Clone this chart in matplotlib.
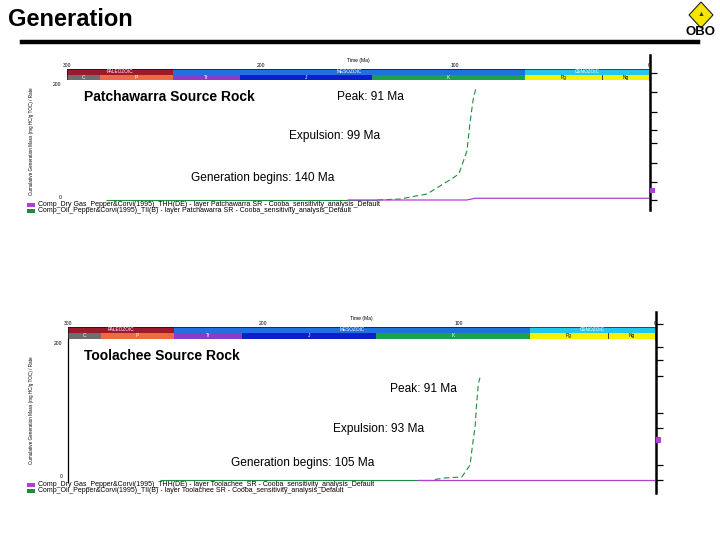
import matplotlib
matplotlib.use("Agg")
import matplotlib.pyplot as plt
from matplotlib.patches import Rectangle, Polygon

plt.rcParams['font.family'] = ['Liberation Sans', 'DejaVu Sans']

W, H = 720, 540

# ---------------- data ----------------
era_names = ["PALEOZOIC", "MESOZOIC", "CENOZOIC"]
era_start = [300, 245.5, 64]
era_end = [245.5, 64, 0]
era_colors = ["#9c1a2e", "#1f70e0", "#22c8ec"]

period_names = ["C", "P", "Tr", "J", "K", "Pg", "Ng"]
period_start = [300, 283, 245.5, 211, 142.6, 64, 24]
period_end = [283, 245.5, 211, 142.6, 64, 24, 0]
period_colors = ["#6e6e6e", "#ee6a42", "#8a3cc8", "#0a20cc", "#1fa050", "#f6f000", "#f6f000"]
period_text = ["white", "white", "white", "white", "white", "black", "black"]

time_ticks = [300, 200, 100, 0]

# Patchawarra source rock
pat_green_flat_age = [280, 140]
pat_green_flat_val = [0, 0]
pat_green_age = [140, 128.4, 114.4, 101, 98, 93.8, 92.3, 90.7, 89.3]
pat_green_val = [0, 1.7, 10.4, 38, 45, 85, 132, 172, 192]
pat_purple_age = [155, 94, 89.5, 0]
pat_purple_val = [0, 0, 3, 3]

# Toolachee source rock
too_green_flat_age = [253, 112.4]
too_green_flat_val = [0, 0]
too_green_age = [112.4, 107.3, 98.7, 96.2, 94.5, 93.1, 91.9, 91.1, 90.2, 89.4]
too_green_val = [0, 2.2, 3.7, 14, 21, 53, 77, 112, 141, 149]
too_purple_age = [121, 0]
too_purple_val = [0, 0]

legend_top = ["Comp_Dry Gas_Pepper&Corvi(1995)_THH(DE) - layer Patchawarra SR - Cooba_sensitivity_analysis_Default",
              "Comp_Oil_Pepper&Corvi(1995)_TII(B) - layer Patchawarra SR - Cooba_sensitivity_analysis_Default"]
legend_bot = ["Comp_Dry Gas_Pepper&Corvi(1995)_THH(DE) - layer Toolachee_SR - Cooba_sensitivity_analysis_Default",
              "Comp_Oil_Pepper&Corvi(1995)_TII(B) - layer Toolachee SR - Cooba_sensitivity_analysis_Default"]

PURPLE = "#b040d0"
GREEN = "#1e8c3c"

fig = plt.figure(figsize=(7.2, 5.4), dpi=100)


def ax_at(x0, y0, x1, y1, **kw):
    return fig.add_axes([x0 / W, 1 - y1 / H, (x1 - x0) / W, (y1 - y0) / H], **kw)


def ftext(x, y, s, **kw):
    return fig.text(x / W, 1 - y / H, s, **kw)


# ---------------- header ----------------
ftext(8, 20, "Generation", fontsize=17, fontweight="bold", va="center", ha="left")
fig.add_artist(plt.Line2D([22 / W, 698 / W], [1 - 42 / H, 1 - 42 / H], color="black", lw=3.2))
# logo
cx, cy = 701, 15
dia = Polygon([(cx / W, 1 - 2 / H), ((cx + 12) / W, 1 - cy / H), (cx / W, 1 - 28 / H), ((cx - 12) / W, 1 - cy / H)],
              closed=True, facecolor="#f5e400", edgecolor="#222222", lw=0.8, transform=fig.transFigure)
fig.add_artist(dia)
ftext(cx, 15, "\u25B2", fontsize=5, color="#333300", ha="center", va="center")
ftext(cx, 32, "OBO", fontsize=9.5, fontweight="bold", color="black", ha="center", va="center")


def draw_panel(x0, x1, bar_top, bar_bot, plot_bot, y0px, y200px,
               green_flat, green, purple, title, ann, legend, leg_y, rax, show_left):
    # time scale bar
    bax = ax_at(x0, bar_top, x1, bar_bot)
    bax.set_xlim(300, 0)
    bax.set_ylim(0, 2)
    for n, s, e, c in zip(era_names, era_start, era_end, era_colors):
        bax.barh(1.5, e - s, left=s, height=1, color=c, edgecolor="none")
        bax.text((s + e) / 2, 1.5, n, fontsize=3.4, color="white", ha="center", va="center")
    for n, s, e, c, tc in zip(period_names, period_start, period_end, period_colors, period_text):
        bax.barh(0.5, e - s, left=s, height=1, color=c, edgecolor="none")
        bax.text((s + e) / 2, 0.5, n, fontsize=3.4, color=tc, ha="center", va="center")
    bax.axvline(24, ymin=0, ymax=0.5, color="black", lw=0.5)
    bax.set_yticks([])
    bax.xaxis.tick_top()
    bax.set_xticks(time_ticks)
    bax.set_xticklabels([str(t) for t in time_ticks], fontsize=3.6)
    bax.tick_params(axis="x", length=0, pad=0.8)
    bax.set_xlabel("Time (Ma)", fontsize=3.6, labelpad=0.5)
    bax.xaxis.set_label_position("top")
    for sp in bax.spines.values():
        sp.set_linewidth(0.4)

    # main axes
    ax = ax_at(x0, bar_bot, x1, plot_bot)
    scale = 200.0 / (y0px - y200px)
    ax.set_xlim(300, 0)
    ax.set_ylim((y0px - plot_bot) * scale, (y0px - bar_bot) * scale)
    ax.plot(green_flat[0], green_flat[1], color=GREEN, lw=0.8, solid_capstyle="butt")
    ax.plot(green[0], green[1], color=GREEN, lw=0.8, dashes=(5, 3))
    ax.plot(purple[0], purple[1], color=PURPLE, lw=0.9)
    ax.set_xticks([])
    ax.set_yticks([0, 200])
    ax.set_yticklabels(["0", "200"], fontsize=3.6)
    ax.get_yticklabels()[0].set_va("bottom")
    ax.tick_params(axis="y", length=0, pad=4)
    for k, sp in ax.spines.items():
        sp.set_visible(False)
    if show_left:
        ax.spines["left"].set_visible(True)
        ax.spines["left"].set_linewidth(0.9)
    ax.set_ylabel("Cumulative Generation Mass (mg HC/g TOC) / Rate", fontsize=3.3, labelpad=14)

    # right axis
    rtop, rbot, rticks = rax
    rx = x1 + 1
    rr = ax_at(rx, rtop, rx + 12, rbot)
    rr.set_ylim(rbot, rtop)
    for k, sp in rr.spines.items():
        sp.set_visible(k == "left")
    rr.spines["left"].set_linewidth(1.8)
    rr.set_xticks([])
    rr.set_yticks(rticks)
    rr.set_yticklabels([])
    rr.tick_params(axis="y", direction="in", length=5, width=0.9)
    rr.patch.set_alpha(0)

    # annotations
    ftext(84, title[1], title[0], fontsize=10, fontweight="bold", va="center", ha="left")
    for (s, x, y) in ann:
        ftext(x, y, s, fontsize=8.6, va="center", ha="left")

    # legend rows
    for i, (s, c) in enumerate(zip(legend, [PURPLE, GREEN])):
        yy = leg_y + i * 6
        fig.add_artist(Rectangle((27 / W, 1 - (yy + 2.2) / H), 8 / W, 4 / H, transform=fig.transFigure,
                                 facecolor=c, edgecolor="none"))
        ftext(38, yy, s, fontsize=5.0, va="center", ha="left")
    return ax


draw_panel(67, 649, 69, 80, 202, 200, 84,
           (pat_green_flat_age, pat_green_flat_val), (pat_green_age, pat_green_val),
           (pat_purple_age, pat_purple_val),
           ("Patchawarra Source Rock", 97),
           [("Peak: 91 Ma", 337, 97), ("Expulsion: 99 Ma", 289, 136), ("Generation begins: 140 Ma", 191, 178)],
           legend_top, 204.8,
           (55, 210, [73, 92, 112, 130, 143, 163, 182, 200]), False)
fig.add_artist(Rectangle((650 / W, 1 - 193 / H), 5 / W, 5 / H, transform=fig.transFigure,
                         facecolor=PURPLE, edgecolor="none"))

draw_panel(67.7, 655, 326.7, 339, 482, 479.5, 343,
           (too_green_flat_age, too_green_flat_val), (too_green_age, too_green_val),
           (too_purple_age, too_purple_val),
           ("Toolachee Source Rock", 356),
           [("Peak: 91 Ma", 390, 389), ("Expulsion: 93 Ma", 333, 429), ("Generation begins: 105 Ma", 231, 463)],
           legend_bot, 485,
           (312, 493, [324, 347, 360, 376, 413, 428, 465, 480]), True)
fig.add_artist(Rectangle((656 / W, 1 - 443 / H), 5 / W, 6 / H, transform=fig.transFigure,
                         facecolor=PURPLE, edgecolor="none"))

fig.savefig("out.png", dpi=100)
